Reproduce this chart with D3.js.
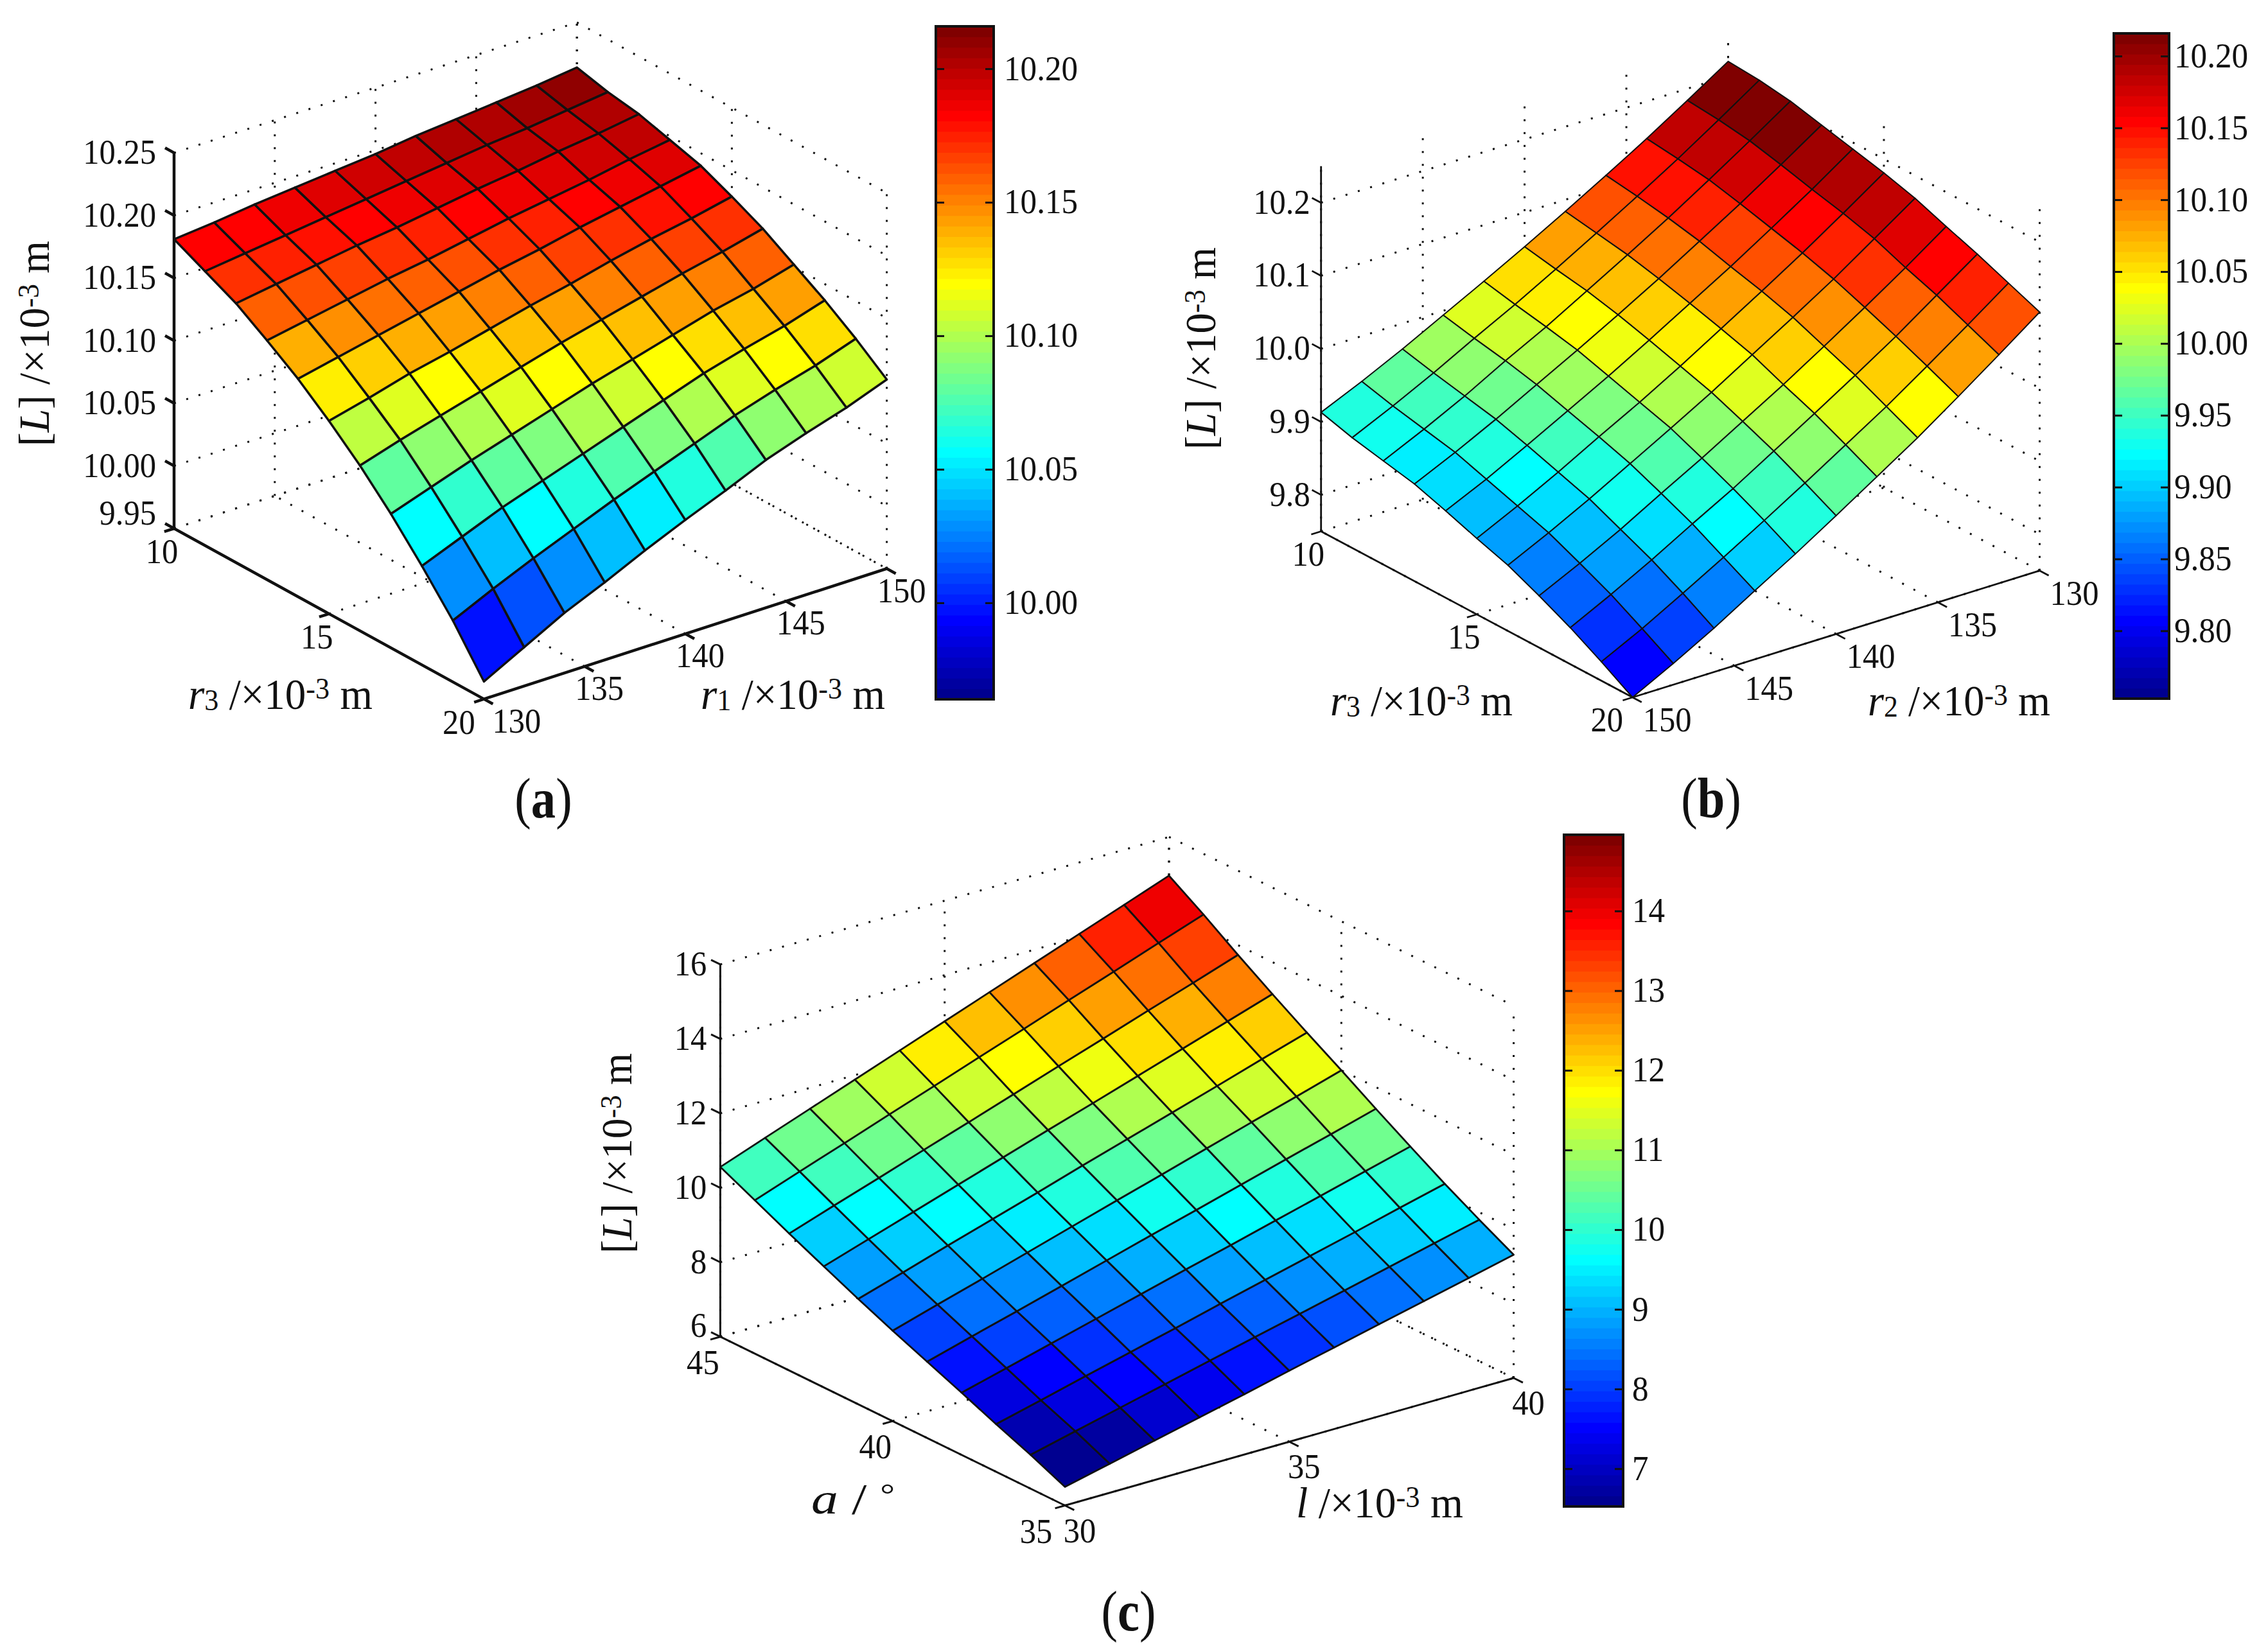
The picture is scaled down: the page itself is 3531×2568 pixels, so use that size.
<!DOCTYPE html>
<html>
<head>
<meta charset="utf-8">
<script src="https://cdnjs.cloudflare.com/ajax/libs/d3/7.8.5/d3.min.js"></script>
<style>
html, body { margin: 0; padding: 0; background: #fff; }
text { font-family: "Liberation Serif", serif; fill: #111; }
</style>
</head>
<body>
<div id="chart"></div>
<script>
// shared grids
var r1Grid = [130,132,134,136,138,140,142,144,146,148,150];
var r2Grid = [130,132,134,136,138,140,142,144,146,148,150];
var r3Grid = [10,11,12,13,14,15,16,17,18,19,20];
var aGrid = [35,36,37,38,39,40,41,42,43,44,45];
var lGrid = [30,31,32,33,34,35,36,37,38,39,40];

// panel (a): rows r3 10..20, columns r1 130..150
var surfaceA = [
  [10.181,10.184,10.188,10.191,10.194,10.197,10.201,10.204,10.207,10.210,10.214],
  [10.169,10.173,10.177,10.181,10.185,10.189,10.193,10.197,10.200,10.204,10.208],
  [10.157,10.162,10.167,10.172,10.176,10.181,10.186,10.190,10.195,10.199,10.204],
  [10.141,10.147,10.153,10.159,10.164,10.170,10.176,10.181,10.186,10.192,10.197],
  [10.124,10.131,10.138,10.145,10.152,10.159,10.165,10.172,10.178,10.184,10.190],
  [10.104,10.112,10.121,10.128,10.136,10.144,10.151,10.159,10.166,10.172,10.179],
  [10.082,10.092,10.101,10.110,10.119,10.128,10.136,10.144,10.152,10.159,10.167],
  [10.057,10.068,10.079,10.089,10.099,10.109,10.118,10.127,10.136,10.143,10.152],
  [10.029,10.042,10.055,10.066,10.077,10.088,10.099,10.110,10.119,10.127,10.137],
  [9.999,10.014,10.028,10.041,10.054,10.066,10.078,10.090,10.100,10.109,10.120],
  [9.964,9.981,9.998,10.012,10.027,10.041,10.054,10.068,10.079,10.089,10.101]
];

// panel (b): rows r3 10..20, columns r2 130..150
var surfaceB = [
  [10.220,10.184,10.149,10.116,10.084,10.053,10.023,9.994,9.965,9.938,9.913],
  [10.217,10.180,10.144,10.110,10.077,10.045,10.014,9.985,9.955,9.927,9.901],
  [10.211,10.174,10.138,10.103,10.070,10.038,10.006,9.977,9.946,9.918,9.892],
  [10.201,10.164,10.128,10.094,10.060,10.028,9.997,9.967,9.937,9.909,9.883],
  [10.191,10.153,10.117,10.082,10.049,10.016,9.984,9.954,9.924,9.895,9.869],
  [10.181,10.143,10.106,10.071,10.037,10.003,9.971,9.941,9.910,9.881,9.854],
  [10.169,10.131,10.093,10.058,10.024,9.990,9.958,9.927,9.896,9.867,9.840],
  [10.153,10.114,10.077,10.041,10.006,9.973,9.940,9.909,9.877,9.848,9.821],
  [10.138,10.099,10.060,10.024,9.989,9.955,9.921,9.890,9.858,9.828,9.800],
  [10.121,10.081,10.042,10.004,9.969,9.934,9.900,9.867,9.835,9.804,9.776],
  [10.104,10.063,10.023,9.984,9.948,9.912,9.877,9.844,9.810,9.779,9.750]
];

// panel (c): rows a 35..45, columns l 30..40
var surfaceC = [
  [6.50,6.78,7.06,7.34,7.62,7.91,8.19,8.47,8.75,9.03,9.31],
  [6.91,7.20,7.49,7.78,8.07,8.36,8.64,8.93,9.22,9.51,9.80],
  [7.28,7.58,7.89,8.19,8.49,8.80,9.10,9.40,9.70,10.01,10.31],
  [7.67,7.99,8.31,8.63,8.95,9.27,9.58,9.90,10.22,10.54,10.86],
  [8.05,8.39,8.72,9.06,9.40,9.74,10.07,10.41,10.75,11.08,11.42],
  [8.43,8.79,9.14,9.50,9.86,10.22,10.57,10.93,11.29,11.64,12.00],
  [8.83,9.20,9.58,9.95,10.32,10.70,11.07,11.44,11.81,12.19,12.56],
  [9.25,9.64,10.03,10.42,10.81,11.20,11.58,11.97,12.36,12.75,13.14],
  [9.68,10.09,10.49,10.90,11.30,11.71,12.12,12.52,12.93,13.33,13.74],
  [10.12,10.55,10.97,11.40,11.82,12.25,12.67,13.10,13.52,13.95,14.37],
  [10.56,11.00,11.44,11.88,12.32,12.76,13.20,13.64,14.08,14.52,14.96]
];

// tick labels
var zTicksA = ["9.95","10.00","10.05","10.10","10.15","10.20","10.25"];
var zTicksB = ["9.8","9.9","10.0","10.1","10.2"];
var zTicksC = ["6","8","10","12","14","16"];
var r1Ticks = [130,135,140,145,150];
var r2Ticks = [150,145,140,135,130];
var r3Ticks = [10,15,20];
var aTicks = [45,40,35];
var lTicks = [30,35,40];
var barTicksA = ["10.00","10.05","10.10","10.15","10.20"];
var barTicksB = ["9.80","9.85","9.90","9.95","10.00","10.05","10.10","10.15","10.20"];
var barTicksC = ["7","8","9","10","11","12","13","14"];

// matlab jet(64)
var jetScale = d3.scaleLinear()
    .domain([0, 8, 24, 40, 56, 64])
    .range(["#000080","#0000ff","#00ffff","#ffff00","#ff0000","#800000"]);
var jet64 = d3.range(1, 65).map(function(k) { return jetScale(k); });

var svg = d3.select("#chart").append("svg")
    .attr("width", 3531)
    .attr("height", 2568);

// label made of runs: plain, italic, small (index-like) and sup
function addLabel(parent, parts, x, y, size, len, rotate) {
    var t = parent.append("text")
        .attr("transform", "translate(" + x + "," + y + ")" + (rotate ? "rotate(-90)" : ""))
        .style("font-size", size + "px")
        .attr("textLength", len)
        .attr("lengthAdjust", "spacingAndGlyphs");
    parts.forEach(function(p) {
        var s = t.append("tspan").text(p.t);
        if (p.i) s.style("font-style", "italic");
        if (p.small) s.style("font-size", (size * 0.68) + "px");
        if (p.dy) s.attr("dy", p.dy);
    });
}

function unitLabel(name, sub) {
    var parts = [{ t: name, i: true }];
    if (sub) parts.push({ t: sub, small: true, dy: 2 });
    parts.push({ t: " /\u00d710", dy: sub ? -2 : 0 });
    parts.push({ t: "-3", small: true, dy: -16 });
    parts.push({ t: " m", dy: 16 });
    return parts;
}

function drawPanel(p) {
    var g = svg.append("g");
    var sx = d3.scaleLinear().domain(p.xDomain).range([0, 1]);
    var sy = d3.scaleLinear().domain(p.yDomain).range([0, 1]);
    var sz = d3.scaleLinear().domain(p.zDomain).range([0, 1]);

    var ex = [p.right[0] - p.front[0], p.right[1] - p.front[1]];
    var ey = [p.left[0] - p.front[0], p.left[1] - p.front[1]];
    var eyLen = Math.sqrt(ey[0] * ey[0] + ey[1] * ey[1]);
    var exLen = Math.sqrt(ex[0] * ex[0] + ex[1] * ex[1]);

    function project(x, y, z) {
        return [
            p.front[0] + sx(x) * ex[0] + sy(y) * ey[0],
            p.front[1] + sx(x) * ex[1] + sy(y) * ey[1] - sz(z) * p.height
        ];
    }

    function seg(a, b, cls) {
        g.append("line")
            .attr("x1", a[0]).attr("y1", a[1])
            .attr("x2", b[0]).attr("y2", b[1])
            .attr("stroke", "#111")
            .attr("stroke-width", cls == "dot" ? 3 : p.axisWidth)
            .attr("stroke-dasharray", cls == "dot" ? "3 17" : null);
    }

    var x0 = p.xDomain[0], x1 = p.xDomain[1];
    var y0 = p.yDomain[0], y1 = p.yDomain[1];
    var z0 = p.zDomain[0], z1 = p.zDomain[1];

    // dotted grid on the two walls and the floor
    p.zTicks.forEach(function(lab) {
        var z = +lab;
        seg(project(x0, y1, z), project(x1, y1, z), "dot");
        seg(project(x1, y1, z), project(x1, y0, z), "dot");
    });
    p.xTicks.forEach(function(x) {
        seg(project(x, y1, z0), project(x, y1, z1), "dot");
        seg(project(x, y0, z0), project(x, y1, z0), "dot");
    });
    p.yTicks.forEach(function(y) {
        seg(project(x1, y, z0), project(x1, y, z1), "dot");
        seg(project(x0, y, z0), project(x1, y, z0), "dot");
    });

    var color = d3.scaleQuantize().domain(p.cRange).range(jet64);

    // surface cells, each flat coloured from its first corner
    var cells = [];
    d3.range(p.rowGrid.length - 1).forEach(function(j) {
        d3.range(p.colGrid.length - 1).forEach(function(i) {
            cells.push({ i: i, j: j });
        });
    });
    g.selectAll(".cell")
        .data(cells)
        .enter()
        .append("path")
        .attr("class", "cell")
        .attr("d", function(d) {
            var pts = [[d.i, d.j], [d.i + 1, d.j], [d.i + 1, d.j + 1], [d.i, d.j + 1]].map(function(c) {
                return project(p.colGrid[c[0]], p.rowGrid[c[1]], p.surface[c[1]][c[0]]);
            });
            return d3.line()(pts) + "Z";
        })
        .attr("fill", function(d) { return color(p.surface[d.j][d.i]); })
        .attr("stroke", "#111")
        .attr("stroke-width", p.meshWidth)
        .attr("stroke-linejoin", "round");

    // solid axes
    seg(project(x0, y1, z0), project(x0, y1, z1));
    seg(project(x0, y1, z0), project(x0, y0, z0));
    seg(project(x0, y0, z0), project(x1, y0, z0));

    var tickLen = 16;
    p.zTicks.forEach(function(lab, k) {
        var a = project(x0, y1, +lab);
        seg(a, [a[0] + ey[0] / eyLen * tickLen, a[1] + ey[1] / eyLen * tickLen]);
        g.append("text")
            .attr("x", 0).attr("y", 0)
            .attr("transform", "translate(" + (a[0] - p.zLabelGap) + "," + (a[1] + 17 + (k == 0 ? p.zBottomDy : 0)) + ")scale(0.92,1)")
            .attr("text-anchor", "end")
            .style("font-size", "55px")
            .text(lab);
    });
    p.xTicks.forEach(function(x, k) {
        var a = project(x, y0, z0);
        seg(a, [a[0] - ey[0] / eyLen * tickLen, a[1] - ey[1] / eyLen * tickLen]);
        var extra = k == 0 ? p.xCornerDx : 0;
        g.append("text")
            .attr("transform", "translate(" + (a[0] + p.xLabelOff[0] + extra) + "," + (a[1] + p.xLabelOff[1] + 18) + ")scale(0.92,1)")
            .attr("text-anchor", "middle")
            .style("font-size", "55px")
            .text(x);
    });
    p.yTicks.forEach(function(y, k) {
        var a = project(x0, y, z0);
        seg(a, [a[0] - ex[0] / exLen * tickLen, a[1] - ex[1] / exLen * tickLen]);
        var extra = k == p.yTicks.length - 1 ? p.yCornerDx : 0;
        g.append("text")
            .attr("transform", "translate(" + (a[0] + p.yLabelOff[0] + extra) + "," + (a[1] + p.yLabelOff[1] + 18) + ")scale(0.92,1)")
            .attr("text-anchor", "middle")
            .style("font-size", "55px")
            .text(y);
    });

    // colorbar
    var barY = d3.scaleLinear().domain(p.cRange).range([p.bar.bottom, p.bar.top]);
    var barBands = d3.range(64);
    var bandH = (p.bar.bottom - p.bar.top) / 64;
    g.selectAll(".band")
        .data(barBands)
        .enter()
        .append("rect")
        .attr("class", "band")
        .attr("x", p.bar.left)
        .attr("width", p.bar.right - p.bar.left)
        .attr("y", function(d) { return p.bar.bottom - (d + 1) * bandH - 0.5; })
        .attr("height", bandH + 1)
        .attr("fill", function(d) { return jet64[d]; });
    g.append("rect")
        .attr("x", p.bar.left).attr("y", p.bar.top)
        .attr("width", p.bar.right - p.bar.left)
        .attr("height", p.bar.bottom - p.bar.top)
        .attr("fill", "none")
        .attr("stroke", "#111")
        .attr("stroke-width", 4);
    p.bar.ticks.forEach(function(lab) {
        var y = barY(+lab);
        g.append("line")
            .attr("x1", p.bar.left).attr("x2", p.bar.left + 13)
            .attr("y1", y).attr("y2", y)
            .attr("stroke", "#111").attr("stroke-width", 3);
        g.append("line")
            .attr("x1", p.bar.right - 13).attr("x2", p.bar.right)
            .attr("y1", y).attr("y2", y)
            .attr("stroke", "#111").attr("stroke-width", 3);
        g.append("text")
            .attr("transform", "translate(" + p.bar.labelX + "," + (y + 17) + ")scale(0.93,1)")
            .style("font-size", "55px")
            .text(lab);
    });

    // axis titles
    addLabel(g, p.xTitle.parts, p.xTitle.x, p.xTitle.y, 68, p.xTitle.len);
    addLabel(g, p.yTitle.parts, p.yTitle.x, p.yTitle.y, 68, p.yTitle.len);
    addLabel(g, [{ t: "[" }, { t: "L", i: true }, { t: "] /\u00d710" }, { t: "-3", small: true, dy: -16 }, { t: " m", dy: 16 }],
        p.zTitle.x, p.zTitle.y, 68, p.zTitle.len, true);

    // panel tag
    var tag = g.append("text")
        .attr("transform", "translate(" + p.tag[0] + "," + p.tag[1] + ")scale(0.87,1)")
        .attr("text-anchor", "middle")
        .style("font-size", "88px");
    tag.append("tspan").text("(");
    tag.append("tspan").style("font-weight", "bold").text(p.tag[2]);
    tag.append("tspan").text(")");
}

var panels = [
    {
        surface: surfaceA, colGrid: r1Grid, rowGrid: r3Grid,
        xDomain: [130, 150], yDomain: [20, 10], zDomain: [9.95, 10.25],
        cRange: [9.964, 10.216],
        front: [753.4, 1088.6], left: [271, 823], right: [1380.6, 885.5], height: 585,
        axisWidth: 4.5, meshWidth: 3.5,
        zTicks: zTicksA, xTicks: r1Ticks, yTicks: r3Ticks,
        zLabelGap: 28, zBottomDy: -23,
        xLabelOff: [23, 34], xCornerDx: 28,
        yLabelOff: [-19, 36], yCornerDx: -20,
        bar: { left: 1457, right: 1547, top: 41, bottom: 1089, labelX: 1563, ticks: barTicksA },
        xTitle: { parts: unitLabel("r", "1"), x: 1091, y: 1104, len: 287 },
        yTitle: { parts: unitLabel("r", "3"), x: 293, y: 1104, len: 287 },
        zTitle: { x: 76, y: 695, len: 320 },
        tag: [846, 1273, "a"]
    },
    {
        surface: surfaceB, colGrid: r2Grid, rowGrid: r3Grid,
        xDomain: [150, 130], yDomain: [20, 10], zDomain: [9.75, 10.25],
        cRange: [9.753, 10.216],
        front: [2541.7, 1086], left: [2056.7, 827.5], right: [3175.5, 888.7], height: 568.7,
        axisWidth: 2.8, meshWidth: 2,
        zTicks: zTicksB, xTicks: r2Ticks, yTicks: r3Ticks,
        zLabelGap: 17, zBottomDy: 0,
        xLabelOff: [54, 35], xCornerDx: 0,
        yLabelOff: [-20, 35], yCornerDx: -20,
        bar: { left: 3291, right: 3377, top: 52, bottom: 1088, labelX: 3385, ticks: barTicksB },
        xTitle: { parts: unitLabel("r", "2"), x: 2908, y: 1114, len: 284 },
        yTitle: { parts: unitLabel("r", "3"), x: 2071, y: 1114, len: 284 },
        zTitle: { x: 1892, y: 700, len: 315 },
        tag: [2664, 1273, "b"]
    },
    {
        surface: surfaceC, colGrid: lGrid, rowGrid: aGrid,
        xDomain: [30, 40], yDomain: [35, 45], zDomain: [6, 16],
        cRange: [6.53, 14.96],
        front: [1658, 2344.5], left: [1121.4, 2081.7], right: [2356.6, 2146], height: 579.8,
        axisWidth: 3, meshWidth: 2.8,
        zTicks: zTicksC, xTicks: lTicks, yTicks: aTicks,
        zLabelGap: 21, zBottomDy: -17,
        xLabelOff: [23, 39], xCornerDx: 0,
        yLabelOff: [-27, 40], yCornerDx: -18,
        bar: { left: 2435, right: 2527, top: 1300, bottom: 2346, labelX: 2541, ticks: barTicksC },
        xTitle: { parts: unitLabel("l"), x: 2018, y: 2363, len: 260 },
        yTitle: { parts: [{ t: "a", i: true }, { t: "  /  " }, { t: "\u00b0", small: true, dy: -14 }], x: 1263, y: 2357, len: 130 },
        zTitle: { x: 983, y: 1952, len: 312 },
        tag: [1757, 2539, "c"]
    }
];

panels.forEach(drawPanel);
</script>
</body>
</html>
